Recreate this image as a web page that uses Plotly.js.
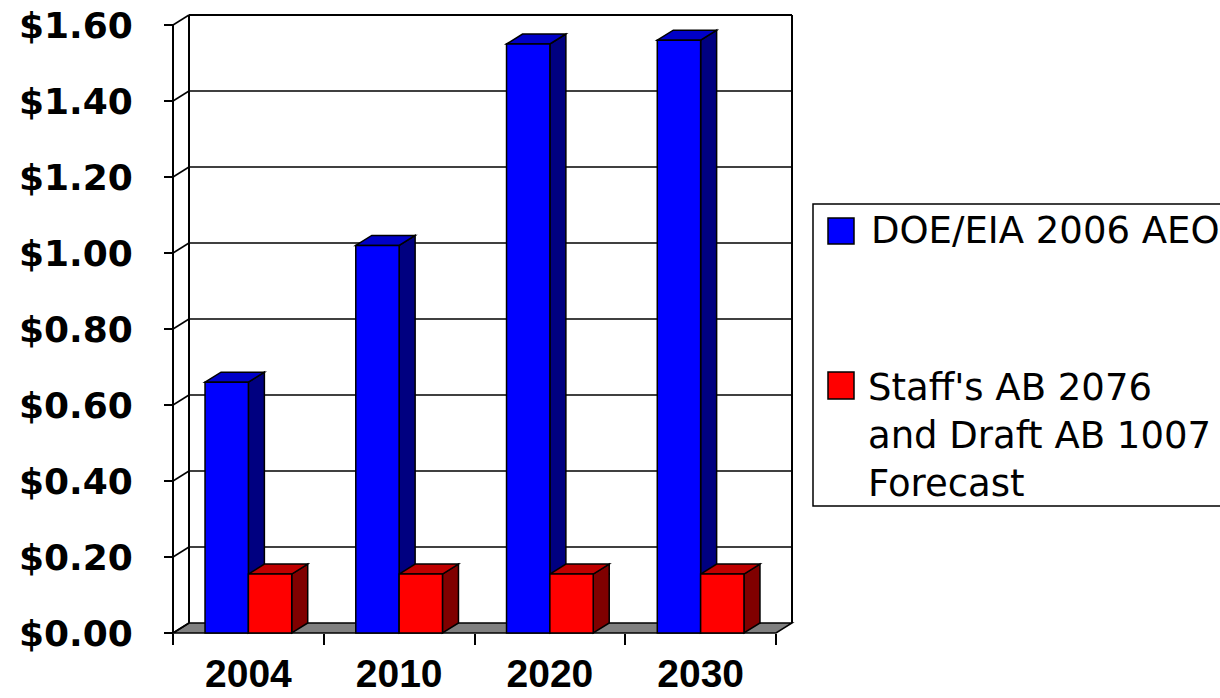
<!DOCTYPE html>
<html>
<head>
<meta charset="utf-8">
<script src="https://cdn.plot.ly/plotly-3.0.1.min.js"></script>
<style>html,body{margin:0;padding:0;background:#fff;}#chart{width:1220px;height:698px;}</style>
</head>
<body>
<div id="chart"></div>
<script>
// ---- data ----
const categories = ['2004', '2010', '2020', '2030'];
const doeValues = [0.66, 1.02, 1.55, 1.56];
const staffValues = [0.155, 0.155, 0.155, 0.155];
const seriesNames = ['DOE/EIA 2006 AEO', "Staff's AB 2076<br>and Draft AB 1007<br>Forecast"];
const yTickVals = [0, 0.2, 0.4, 0.6, 0.8, 1.0, 1.2, 1.4, 1.6];

// ---- geometry (pixels) ----
const W = 1220, H = 698;
const PL = 150, PR = 810, PT = 4, PB = 650;      // plot area
const FX0 = 173, FX1 = 776, FY0 = 633, FY1 = 25; // front frame
const yMax = 1.6;
const nCat = categories.length;
const pxPerCat = (FX1 - FX0) / nCat;
const pxPerUnit = (FY0 - FY1) / yMax;
const xRange = [-0.5 - (FX0 - PL) / pxPerCat, nCat - 0.5 + (PR - FX1) / pxPerCat];
const yRange = [-(PB - FY0) / pxPerUnit, yMax + (FY1 - PT) / pxPerUnit];
const DX = 16 / pxPerCat, DY = 10 / pxPerUnit;
const bargap = 0.425;
const bw = (1 - bargap) / 2;
const px = x => (x - PL) / (PR - PL);
const py = y => (PB - y) / (PB - PT);

const colors = {
  blue: {front: '#0000FF', top: '#0000C8', side: '#000080'},
  red: {front: '#FF0000', top: '#C00000', side: '#800000'}
};

const traces = [
  {type: 'bar', x: categories, y: doeValues, name: seriesNames[0],
   marker: {color: colors.blue.front, line: {color: '#000', width: 1.5}}, hoverinfo: 'y'},
  {type: 'bar', x: categories, y: staffValues, name: seriesNames[1],
   marker: {color: colors.red.front, line: {color: '#000', width: 1.5}}, hoverinfo: 'y'}
];

const shapes = [];
const L = -0.5, R = nCat - 0.5;
function line(x0, y0, x1, y1, w) {
  shapes.push({type: 'line', xref: 'x', yref: 'y', x0, y0, x1, y1, layer: 'below',
    line: {color: '#000', width: w}});
}
// floor
shapes.push({type: 'path', xref: 'x', yref: 'y', layer: 'below',
  path: `M${L},0 L${R},0 L${R + DX},${DY} L${L + DX},${DY} Z`,
  fillcolor: '#808080', line: {color: '#000', width: 1.5}});
// back wall verticals
line(L + DX, DY, L + DX, yMax + DY, 2);
line(R + DX, DY, R + DX, yMax + DY, 2);
// gridlines on back wall and left wall slants
yTickVals.forEach(v => {
  if (v > 0) line(L + DX, v + DY, R + DX, v + DY, v === yMax ? 2 : 1.5);
  line(L, v, L + DX, v + DY, 1.5);
});
// front vertical axis line
line(L, 0, L, yMax, 2);

// 3D faces of bars
function faces(i, x0, x1, v, c) {
  shapes.push({type: 'path', xref: 'x', yref: 'y', layer: 'below',
    path: `M${x1},0 L${x1},${v} L${x1 + DX},${v + DY} L${x1 + DX},${DY} Z`,
    fillcolor: c.side, line: {color: '#000', width: 1.5}});
  shapes.push({type: 'path', xref: 'x', yref: 'y', layer: 'below',
    path: `M${x0},${v} L${x0 + DX},${v + DY} L${x1 + DX},${v + DY} L${x1},${v} Z`,
    fillcolor: c.top, line: {color: '#000', width: 1.5}});
}
categories.forEach((cat, i) => {
  faces(i, i - bw, i, doeValues[i], colors.blue);
  faces(i, i, i + bw, staffValues[i], colors.red);
});

// custom legend
shapes.push({type: 'rect', xref: 'paper', yref: 'paper', x0: px(813), x1: px(1240), y0: py(204), y1: py(506),
  fillcolor: 'rgba(0,0,0,0)', line: {color: '#000', width: 1.5}});
shapes.push({type: 'rect', xref: 'paper', yref: 'paper', x0: px(828), x1: px(854), y0: py(218), y1: py(244),
  fillcolor: colors.blue.front, line: {color: '#000', width: 1.5}});
shapes.push({type: 'rect', xref: 'paper', yref: 'paper', x0: px(828), x1: px(854), y0: py(372), y1: py(399),
  fillcolor: colors.red.front, line: {color: '#000', width: 1.5}});

const annotations = [
  {xref: 'paper', yref: 'paper', x: px(869), y: py(231), xanchor: 'left', yanchor: 'middle',
   text: seriesNames[0], showarrow: false, align: 'left',
   font: {family: 'DejaVu Sans', size: 37, color: '#000'}},
  {xref: 'paper', yref: 'paper', x: px(866), y: py(436), xanchor: 'left', yanchor: 'middle',
   text: seriesNames[1], showarrow: false, align: 'left',
   font: {family: 'DejaVu Sans', size: 37, color: '#000'}}
];

const layout = {
  width: W, height: H,
  margin: {l: PL, r: W - PR, t: PT, b: H - PB, pad: 0},
  paper_bgcolor: '#fff', plot_bgcolor: '#fff',
  showlegend: false,
  barmode: 'group', bargap: bargap, bargroupgap: 0,
  font: {family: 'DejaVu Sans', color: '#000'},
  xaxis: {type: 'category', range: xRange, anchor: 'free', position: py(FY0),
    showgrid: false, zeroline: false, showline: false,
    ticks: 'outside', tickson: 'boundaries', ticklen: 11, tickwidth: 2, tickcolor: '#000',
    ticklabelstandoff: 14,
    tickfont: {family: 'Liberation Sans', size: 39, weight: 'bold', color: '#000'}},
  yaxis: {range: yRange, anchor: 'free', position: px(FX0),
    showgrid: false, zeroline: false, showline: false,
    tickmode: 'array', tickvals: yTickVals, tickformat: '$.2f',
    ticks: 'outside', ticklen: 9, tickwidth: 2, tickcolor: '#000',
    ticklabelstandoff: 24,
    tickfont: {family: 'DejaVu Sans', size: 36, weight: 'bold', color: '#000'}},
  shapes: shapes,
  annotations: annotations
};

Plotly.newPlot('chart', traces, layout, {displayModeBar: false, staticPlot: true});
</script>
</body>
</html>
